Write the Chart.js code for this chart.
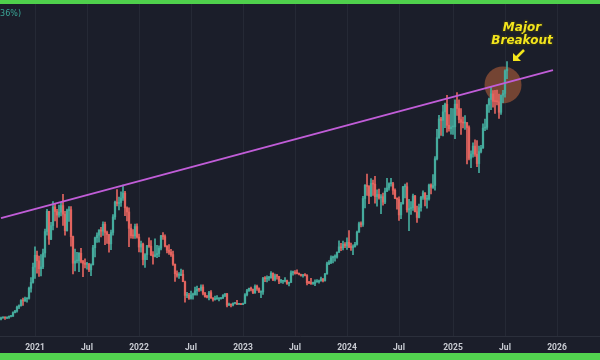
<!DOCTYPE html>
<html>
<head>
<meta charset="utf-8">
<script src="https://cdn.jsdelivr.net/npm/chart.js@4/dist/chart.umd.min.js"></script>
<style>
  html, body { margin: 0; padding: 0; background: #1b1e2a; }
  #marco {
    width: 600px; height: 360px; box-sizing: border-box;
    border-top: 4px solid #4fd04c; border-bottom: 7px solid #52d34f;
    background: #1b1e2a; overflow: hidden;
  }
  canvas { display: block; }
</style>
</head>
<body>
<div id="marco"><canvas id="grafico" width="600" height="349"></canvas></div>
<script>
// velas semanales (miles de USD), desde la semana del 2020-09-07
const inicioSemana = "2020-09-07";
const totalSemanas = 300; // el eje llega hasta mediados de 2026

const opens = [10.28,10.7,11.0,10.75,11.05,11.38,11.5,13.03,13.76,15.47,16.1,18.4,18.2,19.15,19.3,23.7,26.3,
  33.0,38.2,35.8,32.3,33.1,39.2,48.6,57.5,45.2,51.2,59.4,57.4,55.8,57.1,60.0,56.2,49.0,57.8,58.2,46.4,34.7,35.7,35.8,39.1,35.5,34.7,34.2,34.3,31.8,34.0,41.5,45.9,47.0,49.3,48.8,51.8,48.2,47.3,43.2,48.2,55.0,61.5,60.9,61.3,63.3,65.5,59.0,57.2,50.0,46.8,46.7,50.8,
  46.2,41.8,43.1,36.3,38.5,42.4,42.2,38.4,37.7,38.4,39.0,41.3,46.8,46.4,42.2,40.4,39.5,38.5,34.3,30.1,29.4,29.4,29.9,26.6,20.6,20.7,19.3,20.8,20.8,22.6,23.3,23.2,24.3,21.5,20.0,19.8,21.8,19.4,18.8,19.0,19.1,19.2,19.6,20.6,21.3,16.3,16.7,16.4,17.1,17.1,16.7,16.8,
  16.6,17.1,20.9,22.7,23.7,23.3,21.8,24.6,23.6,22.0,22.1,28.0,27.9,28.2,28.3,30.3,27.6,29.2,28.9,26.8,26.8,26.8,27.1,25.8,26.3,30.5,30.6,30.3,30.2,29.9,29.3,29.4,29.3,26.1,26.0,25.8,25.8,26.5,26.6,27.0,27.9,27.1,30.0,34.5,35.0,37.1,37.4,37.4,39.5,41.9,41.4,43.0,
  42.3,43.9,41.7,41.6,42.0,43.0,48.3,52.1,51.7,63.1,68.9,68.4,64.2,69.7,69.4,63.9,64.9,63.4,63.9,61.5,66.3,67.7,69.6,69.6,66.7,63.2,62.7,55.9,60.8,68.2,68.3,58.1,58.7,59.0,64.2,57.3,54.8,59.1,63.6,65.6,62.8,62.9,69.0,68.0,68.8,80.5,89.8,98.0,97.3,101.1,104.4,95.2,93.7,
  94.5,94.5,104.5,102.6,97.7,96.5,96.2,96.3,94.2,80.7,82.6,86.1,82.5,78.4,83.7,85.3,94.0,94.3,104.1,106.5,109.0,105.7,105.6,105.5,100.9,108.4,109.2,119.1];
const highs = [11.1,11.2,11.1,10.95,11.5,11.7,13.35,14.1,15.9,16.5,18.8,19.4,19.9,19.4,24.3,28.4,34.8,
  41.9,40.0,37.8,38.5,40.9,49.7,58.3,57.5,52.6,61.8,60.6,58.4,60.2,61.3,64.9,57.5,58.5,59.6,59.6,46.6,40.9,39.5,39.4,41.3,36.0,36.6,35.1,34.7,34.5,42.6,46.2,48.1,49.4,50.5,52.9,52.8,48.8,47.4,49.2,56.1,62.0,67.0,63.7,66.0,69.0,66.3,59.4,59.0,51.9,49.5,51.9,52.0,
  47.5,44.4,43.5,38.9,42.6,45.8,44.7,39.8,45.4,42.6,42.3,47.0,48.2,47.2,42.4,42.9,40.8,40.0,34.3,31.4,30.6,32.2,31.7,26.9,21.9,21.5,22.5,21.6,24.3,24.7,23.6,25.2,25.2,21.9,20.6,22.4,22.7,19.7,20.3,20.5,19.5,19.7,21.0,21.4,21.5,17.2,16.8,17.4,17.4,18.4,16.9,16.9,
  17.2,21.4,23.3,23.8,24.2,23.4,25.2,25.1,23.9,22.6,28.5,28.9,29.2,29.0,31.0,30.5,30.0,29.8,29.0,27.6,27.0,28.4,27.3,26.4,31.4,31.3,31.5,31.8,30.4,29.9,29.7,30.2,29.7,26.8,28.1,26.4,27.4,27.5,27.3,28.6,28.0,30.3,35.2,35.9,38.0,37.9,38.4,39.7,44.5,43.4,44.4,43.8,
  45.9,49.0,43.6,42.8,43.9,48.8,52.8,52.9,64.0,69.2,73.8,68.8,71.8,71.2,72.8,66.9,67.2,64.8,65.5,67.7,71.9,70.0,72.0,70.2,67.3,63.4,63.8,61.4,68.4,69.4,70.0,62.7,61.8,65.0,64.5,59.8,60.6,64.1,66.5,65.6,64.5,69.4,69.5,73.6,81.5,93.4,99.6,98.7,104.0,105.0,108.3,99.9,102.7,
  102.5,106.4,109.6,106.4,102.5,98.8,99.5,96.5,95.0,84.0,87.5,88.8,88.5,86.1,86.4,95.8,97.9,104.3,107.1,111.9,110.4,110.5,110.6,108.9,108.5,110.5,119.5,123.2];
const lows = [9.9,10.6,10.1,10.4,10.5,11.2,11.4,12.9,13.2,14.8,15.9,16.2,18.0,17.6,19.0,22.0,26.0,
  28.1,30.4,28.9,29.2,32.3,37.4,47.0,43.0,45.0,49.3,53.3,50.4,54.9,55.5,51.3,47.0,48.8,53.0,42.2,30.0,31.3,34.8,31.0,34.9,28.8,32.7,32.1,31.0,29.3,34.0,37.5,43.8,43.9,46.3,46.9,42.8,43.4,39.6,40.7,47.0,53.9,59.8,58.1,59.6,62.3,55.6,53.3,42.0,45.7,45.6,45.6,45.7,
  39.7,39.6,34.0,32.9,36.3,41.7,38.0,34.3,37.5,37.2,37.6,40.5,45.2,41.9,39.2,38.6,37.7,33.7,26.7,28.6,28.0,29.3,26.6,17.6,19.6,18.8,19.0,18.9,20.8,20.7,22.4,22.6,20.8,19.8,19.5,18.6,19.4,18.1,18.5,19.0,18.2,18.9,19.2,20.0,15.6,16.2,15.5,16.0,16.9,16.5,16.6,16.5,
  16.5,17.1,20.4,22.3,22.6,21.4,21.5,22.8,21.9,19.6,21.0,26.6,26.5,27.2,28.2,27.1,27.0,27.7,25.8,26.1,25.9,26.5,25.4,24.8,26.3,29.5,29.9,30.0,29.6,29.0,28.6,29.1,25.2,25.8,25.4,25.4,24.9,26.4,26.0,26.9,26.5,26.9,29.9,34.1,34.5,34.8,35.6,36.9,39.5,40.2,40.5,41.5,
  40.8,41.5,40.3,38.5,41.8,42.6,48.3,50.6,50.9,59.0,64.5,60.8,64.0,64.5,61.0,59.7,62.8,56.5,60.2,60.8,66.1,66.7,68.5,64.9,63.0,58.4,53.5,54.3,60.6,63.4,57.1,49.0,56.1,57.9,57.2,52.6,54.6,57.5,62.7,59.8,58.9,62.4,65.1,67.5,66.8,80.0,89.4,90.8,90.5,94.2,92.2,92.6,91.3,
  91.2,89.3,99.5,96.2,91.2,94.1,93.4,78.3,80.0,76.6,81.2,81.6,77.1,74.4,83.1,85.1,92.8,93.4,100.8,102.1,103.1,100.4,104.1,98.2,100.0,105.1,107.5,115.7];
const closes = [10.7,11.0,10.75,11.05,11.38,11.5,13.03,13.76,15.47,16.1,18.4,18.2,19.15,19.3,23.7,26.3,33.0,
  38.2,35.8,32.3,33.1,39.2,48.6,57.5,45.2,51.2,59.4,57.4,55.8,57.1,60.0,56.2,49.0,57.8,58.2,46.4,34.7,35.7,35.8,39.1,35.5,34.7,34.2,34.3,31.8,34.0,41.5,45.9,47.0,49.3,48.8,51.8,48.2,47.3,43.2,48.2,55.0,61.5,60.9,61.3,63.3,65.5,59.0,57.2,50.0,46.8,46.7,50.8,46.2,
  41.8,43.1,36.3,38.5,42.4,42.2,38.4,37.7,38.4,39.0,41.3,46.8,46.4,42.2,40.4,39.5,38.5,34.3,30.1,29.4,29.4,29.9,26.6,20.6,20.7,19.3,20.8,20.8,22.6,23.3,23.2,24.3,21.5,20.0,19.8,21.8,19.4,18.8,19.0,19.1,19.2,19.6,20.6,21.3,16.3,16.7,16.4,17.1,17.1,16.7,16.8,16.6,
  17.1,20.9,22.7,23.7,23.3,21.8,24.6,23.6,22.0,22.1,28.0,27.9,28.2,28.3,30.3,27.6,29.2,28.9,26.8,26.8,26.8,27.1,25.8,26.3,30.5,30.6,30.3,30.2,29.9,29.3,29.4,29.3,26.1,26.0,25.8,25.8,26.5,26.6,27.0,27.9,27.1,30.0,34.5,35.0,37.1,37.4,37.4,39.5,41.9,41.4,43.0,42.3,
  43.9,41.7,41.6,42.0,43.0,48.3,52.1,51.7,63.1,68.9,68.4,64.2,69.7,69.4,63.9,64.9,63.4,63.9,61.5,66.3,67.7,69.6,69.6,66.7,63.2,62.7,55.9,60.8,68.2,68.3,58.1,58.7,59.0,64.2,57.3,54.8,59.1,63.6,65.6,62.8,62.9,69.0,68.0,68.8,80.5,89.8,98.0,97.3,101.1,104.4,95.2,93.7,94.5,
  94.5,104.5,102.6,97.7,96.5,96.2,96.3,94.2,80.7,82.6,86.1,82.5,78.4,83.7,85.3,94.0,94.3,104.1,106.5,109.0,105.7,105.6,105.5,100.9,108.4,109.2,119.1,119.8];

// etiquetas del eje x (indice de semana -> texto)
const semanasTick = [17, 43, 69, 95, 121, 147, 173, 199, 226, 252, 278];
const textosTick = ["2021", "Jul", "2022", "Jul", "2023", "Jul", "2024", "Jul", "2025", "Jul", "2026"];

// linea de tendencia (semana, precio) y el circulo del quiebre
const tendenciaSemanas = [0, 276];
const tendenciaPrecios = [54.5, 119.4];
const quiebreSemana = 251;
const quiebrePrecio = 112.9;

const colorSube = "#45ab9d";
const colorBaja = "#e3645f";

const semanas = [];
for (let i = 0; i < totalSemanas; i++) {
  const d = new Date(inicioSemana + "T00:00:00Z");
  d.setUTCDate(d.getUTCDate() + 7 * i);
  semanas.push(d.toISOString().slice(0, 10));
}

const colores = closes.map((c, i) => (c >= opens[i] ? colorSube : colorBaja));

// textos sobre el grafico: la nota "Major Breakout", la flecha y el % recortado
const notas = {
  id: "notas",
  afterDraw(chart) {
    const ctx = chart.ctx;
    ctx.save();
    ctx.font = "8px 'DejaVu Sans'";
    ctx.fillStyle = "#3aa596";
    ctx.textAlign = "right";
    ctx.textBaseline = "middle";
    ctx.fillText("(+1.36%)", 21, 10);

    ctx.font = "bold italic 12px 'DejaVu Sans'";
    ctx.textAlign = "center";
    ctx.lineJoin = "round";
    ctx.lineWidth = 3;
    ctx.strokeStyle = "#2a2a20";
    ctx.fillStyle = "#f3e51c";
    ctx.strokeText("Major", 522, 24);
    ctx.fillText("Major", 522, 24);
    ctx.strokeText("Breakout", 522, 37);
    ctx.fillText("Breakout", 522, 37);

    // flecha
    ctx.strokeStyle = "#f3e51c";
    ctx.lineWidth = 2.5;
    ctx.beginPath();
    ctx.moveTo(524, 46);
    ctx.lineTo(516, 54);
    ctx.stroke();
    ctx.fillStyle = "#f3e51c";
    ctx.beginPath();
    ctx.moveTo(513, 57);
    ctx.lineTo(513, 49);
    ctx.lineTo(521, 57);
    ctx.closePath();
    ctx.fill();
    ctx.restore();
  },
};

new Chart(document.getElementById("grafico"), {
  data: {
    labels: semanas,
    datasets: [
      {
        type: "line",
        data: [{ x: semanas[quiebreSemana], y: quiebrePrecio }],
        showLine: false,
        pointRadius: 18.5,
        pointBackgroundColor: "rgba(205,105,60,0.5)",
        pointBorderWidth: 0,
        clip: false,
        order: 4,
      },
      {
        type: "bar",
        data: lows.map((l, i) => [l, highs[i]]),
        backgroundColor: colores,
        barThickness: 1,
        grouped: false,
        order: 3,
      },
      {
        type: "bar",
        data: opens.map((o, i) => [o, closes[i]]),
        backgroundColor: colores,
        barThickness: 1.6,
        minBarLength: 1,
        grouped: false,
        order: 2,
      },
      {
        type: "line",
        data: tendenciaSemanas.map((s, i) => ({ x: semanas[s], y: tendenciaPrecios[i] })),
        borderColor: "#c15dd8",
        borderWidth: 2,
        pointRadius: 0,
        order: 1,
      },
    ],
  },
  options: {
    responsive: false,
    animation: false,
    devicePixelRatio: 1,
    layout: { padding: 0, autoPadding: false },
    plugins: { legend: { display: false }, tooltip: { enabled: false } },
    scales: {
      x: {
        type: "category",
        offset: true,
        afterBuildTicks: (scale) => {
          scale.ticks = semanasTick.map((v) => ({ value: v }));
        },
        afterFit: (scale) => {
          scale.paddingLeft = 0;
          scale.paddingRight = 0;
          scale.height = 17;
        },
        ticks: {
          autoSkip: false,
          maxRotation: 0,
          padding: 7,
          color: "#c9ccd3",
          font: { family: "Roboto", size: 8.5, weight: "bold" },
          callback: (v) => textosTick[semanasTick.indexOf(v)],
        },
        grid: { color: "#252935", offset: false, drawTicks: false, tickLength: 0 },
        border: { color: "#2b2f3b" },
      },
      y: {
        display: false,
        min: 2.8,
        max: 148.4,
      },
    },
  },
  plugins: [notas],
});
</script>
</body>
</html>
